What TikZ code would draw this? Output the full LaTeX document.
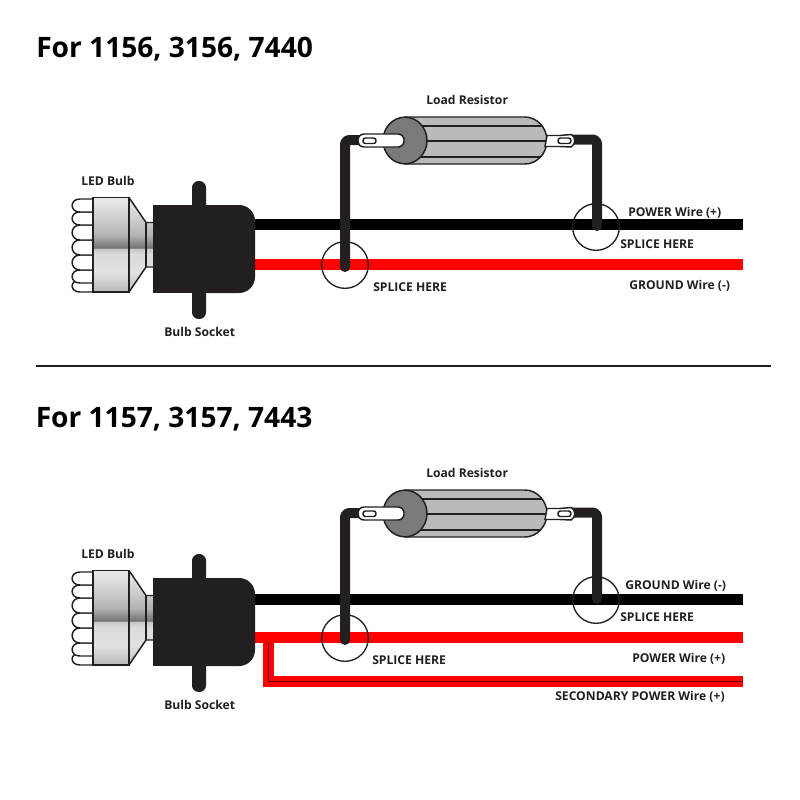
\documentclass[tikz,border=0pt]{standalone}
\usepackage{fontspec}
\setmainfont{Open Sans}
\usetikzlibrary{shapes.geometric}
\definecolor{sockblack}{HTML}{231F20}
\definecolor{wirered}{HTML}{FF0000}
\pgfdeclareverticalshading{bulbsh}{100bp}{%
 color(0bp)=(black!28); color(25bp)=(black!28); color(35bp)=(black!12); color(45bp)=(black!14);
 color(48bp)=(black!22); color(48.4bp)=(black!55); color(55bp)=(black!30); color(65bp)=(black!18);
 color(75bp)=(black!8); color(100bp)=(black!8)}
\tikzset{
  x=0.75pt,y=-0.75pt,
  outl/.style={draw=sockblack,line width=1.1pt},
  blackwire/.style={draw=black,line width=8.25pt},
  redwire/.style={draw=wirered,line width=8.25pt},
  tapwire/.style={draw=sockblack,line width=7.5pt,line join=round,rounded corners=3pt},
  splicering/.style={circle,draw=sockblack,line width=1pt,minimum size=35pt,inner sep=0pt},
  lab/.style={font=\fontsize{9.1pt}{11pt}\selectfont\bfseries,text=sockblack,anchor=west,inner sep=0pt},
  ttl/.style={font=\fontsize{21.1pt}{25pt}\selectfont\bfseries,text=black,anchor=west,inner sep=0pt},
}
\newcommand{\wiringunit}[1]{%
  % LED lobes
  \foreach \a/\b in {280/292,270/283,255/270,240/255,225/240,212/225,199/212}{
    \draw[outl,fill=white] (93,\a) -- (80,\a) .. controls (69.5,\a) and (69.5,\b) .. (80,\b) -- (93,\b);
  }
  % cone and neck
  \begin{scope}
    \clip (129,197.5) -- (146,222.5) -- (153,222.5) -- (153,267) -- (146,267) -- (129,292) -- cycle;
    \shade[shading=bulbsh] (93,197.5) rectangle (153,292);
  \end{scope}
  \draw[outl] (129,197.5) -- (146,222.5) -- (153,222.5) (153,267) -- (146,267) -- (129,292);
  \draw[outl] (146,222.5) -- (146,267);
  % head
  \shade[shading=bulbsh] (93,197.5) rectangle (129,292);
  \draw[outl] (93,197.5) rectangle (129,292);
  % socket
  \fill[sockblack,rounded corners=12pt] (180,205) -- (255,205) -- (255,293) -- (180,293) -- cycle;
  \fill[sockblack] (153,205) rectangle (200,293);
  \fill[sockblack,rounded corners=5pt] (192,181) rectangle (206,319);
  % resistor body
  \draw[outl,fill=black!27] (405,117) -- (525,117) .. controls (537,117) and (547,128) .. (547,140.5)
     .. controls (547,153) and (537,164) .. (525,164) -- (405,164) -- cycle;
  \draw[outl] (405,126) -- (542,126) (405,141) -- (547,141) (405,157) -- (541,157);
  \node[ellipse,draw=sockblack,fill=black!52,line width=1.1pt,minimum width=33pt,minimum height=35pt,inner sep=0pt] (#1endcap) at (405,140.5) {};
  % leads: wire then tab
  \coordinate (#1la) at (364,140);
  \coordinate (#1lb) at (345,140);
  \coordinate (#1lc) at (345,267);
  \coordinate (#1ra) at (568,139.5);
  \coordinate (#1rb) at (597,139.5);
  \coordinate (#1rc) at (597,226);
  \draw[tapwire,line cap=round] (#1la) -- (#1lb) -- (#1lc);
  \draw[tapwire,line cap=round] (#1ra) -- (#1rb) -- (#1rc);
  \draw[outl,fill=white,rounded corners=4.5pt] (358,134) rectangle (404,147);
  \draw[outl,fill=white] (547,135.5) -- (560,135.5) -- (571,134.5) .. controls (576,136) and (576,145) .. (571,147) -- (560,146.5) -- (545,146.5) -- cycle;
  \draw[outl,fill=white,rounded corners=1.8pt] (363,138) rectangle (376,143.5);
  \draw[outl,fill=white,rounded corners=1.8pt] (558,138) rectangle (571,143.5);
  % splice rings
  \node[splicering] (#1ringL) at (345,265) {};
  \node[splicering] (#1ringR) at (596,227) {};
  % labels
  \node[lab] (#1led) at (81,181) {LED Bulb};
  \node[lab] (#1sock) at (164,332) {Bulb Socket};
  \node[lab] (#1load) at (426,100) {Load Resistor};
}
\begin{document}
\begin{tikzpicture}
\useasboundingbox (0,0) rectangle (800,800);
\fill[white] (0,0) rectangle (800,800);
\node[ttl] (title1) at (36,49.5) {For 1156, 3156, 7440};
\node[ttl] (title2) at (35.5,419.5) {For 1157, 3157, 7443};
\coordinate (sepL) at (36,366);
\coordinate (sepR) at (771,366);
\draw[sockblack,line width=0.8pt] (sepL) -- (sepR);
% wires upper
\coordinate (u1) at (253,224.5); \coordinate (u2) at (743,224.5);
\coordinate (u3) at (253,264.5); \coordinate (u4) at (743,264.5);
\draw[blackwire] (u1) -- (u2);
\draw[redwire] (u3) -- (u4);
% wires lower
\coordinate (v1) at (253,599.5); \coordinate (v2) at (743,599.5);
\coordinate (v3) at (253,637.5); \coordinate (v4) at (743,637.5);
\coordinate (v5) at (268.5,640); \coordinate (v6) at (268.5,681.5); \coordinate (v7) at (743,681.5);
\draw[blackwire] (v1) -- (v2);
\draw[redwire] (v5) -- (v6) -- (v7);
\draw[black!60!red,line width=0.6pt] (v5) -- (v6) -- (v7);
\draw[redwire] (v3) -- (v4);
\begin{scope}
 \wiringunit{a}
\end{scope}
\begin{scope}[shift={(0,373)}]
 \wiringunit{b}
\end{scope}
\node[lab] (l1) at (628,213) {POWER Wire (+)};
\node[lab] (l2) at (620,244) {SPLICE HERE};
\node[lab] (l3) at (373,287) {SPLICE HERE};
\node[lab] (l4) at (629,286) {GROUND Wire (-)};
\node[lab] (l5) at (625,586) {GROUND Wire (-)};
\node[lab] (l6) at (620,617) {SPLICE HERE};
\node[lab] (l7) at (372,660) {SPLICE HERE};
\node[lab] (l8) at (632,659) {POWER Wire (+)};
\node[lab] (l9) at (555,697) {SECONDARY POWER Wire (+)};
\end{tikzpicture}
\end{document}
